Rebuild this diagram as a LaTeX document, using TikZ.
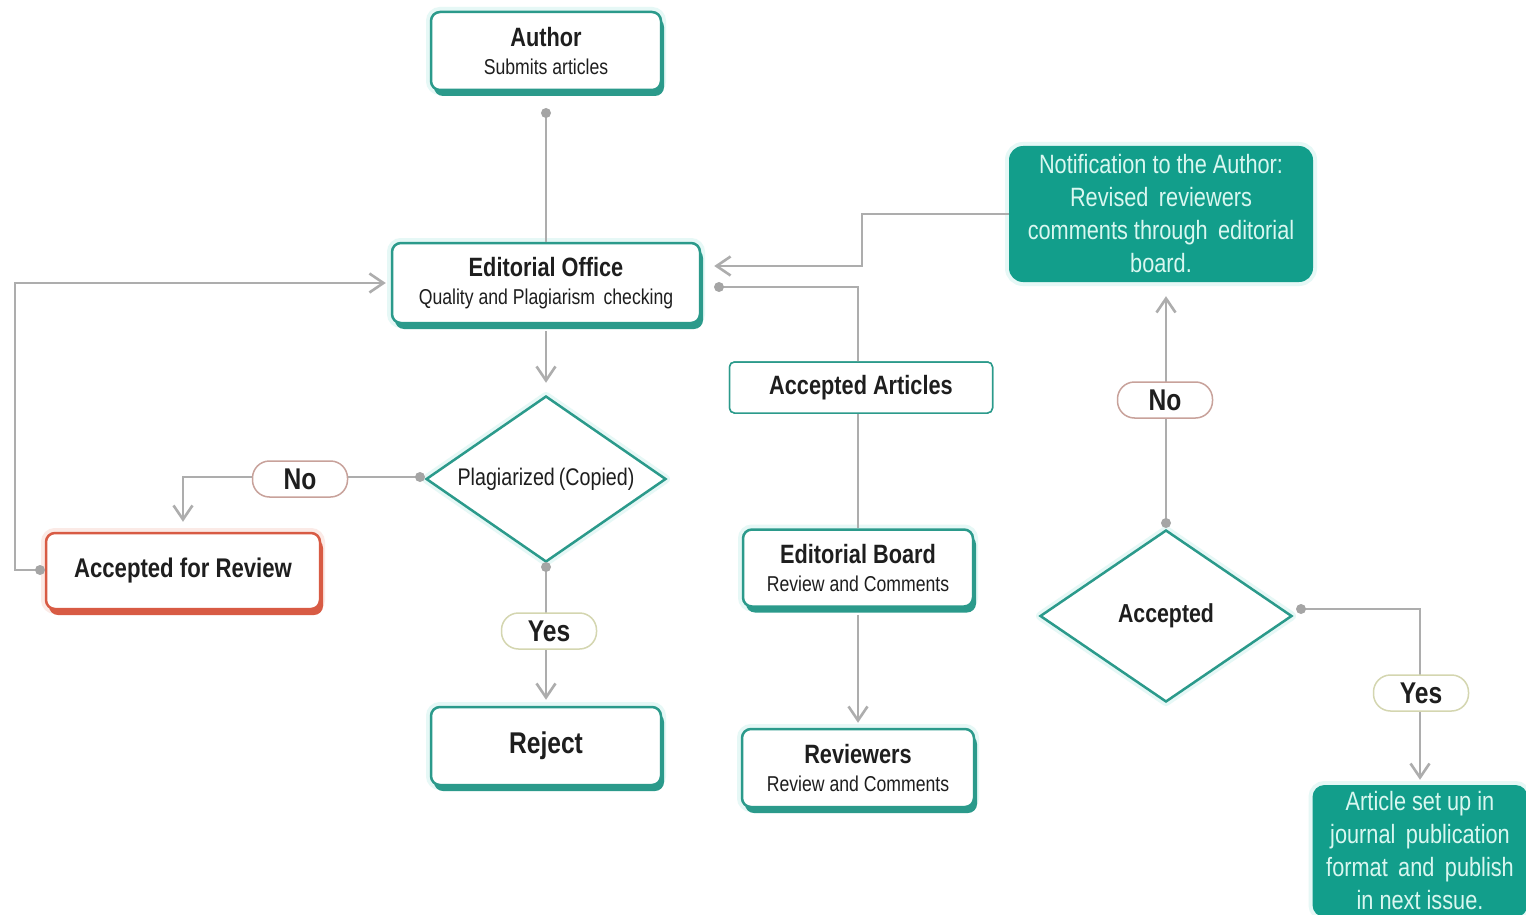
\documentclass[tikz,border=0pt]{standalone}
\usepackage{fontspec}
\setmainfont{Liberation Sans}[FakeStretch=0.82]
\usetikzlibrary{arrows.meta,shapes.geometric,shadows}
\definecolor{tealb}{HTML}{2B9A8B}
\definecolor{tealf}{HTML}{129E8B}
\definecolor{redb}{HTML}{D85B44}
\definecolor{conn}{HTML}{ADADAD}
\definecolor{dotc}{HTML}{A5A5A5}
\definecolor{ntext}{HTML}{D9F7F0}
\definecolor{txt}{HTML}{1E1E1E}
\definecolor{yesb}{HTML}{D4D6B0}
\definecolor{nob}{HTML}{C8A29B}
\definecolor{glowc}{HTML}{E6F8F6}
\definecolor{glowr}{HTML}{FBEAE6}
\newcommand\bigtitle[1]{{\fontsize{26.5}{28}\selectfont\bfseries #1}}
\begin{document}
\begin{tikzpicture}[x=1pt,y=-1pt,
  every node/.style={text=txt},
  box/.style={draw=tealb, line width=2.5pt, rounded corners=9pt, fill=white,
    align=center, inner sep=0pt,
    font=\fontsize{21.5}{28}\selectfont,
    preaction={draw=glowc, line width=10pt},
    drop shadow={shadow xshift=3pt, shadow yshift=-6pt, fill=tealb, opacity=1}},
  redbox/.style={draw=redb, line width=2.5pt, rounded corners=9pt, fill=white,
    align=center, inner sep=0pt,
    preaction={draw=glowr, line width=10pt},
    drop shadow={shadow xshift=3pt, shadow yshift=-6pt, fill=redb, opacity=1}},
  plainbox/.style={draw=tealb, line width=1.5pt, rounded corners=5pt, fill=white,
    align=center, inner sep=0pt, font=\fontsize{26.5}{28}\selectfont\bfseries},
  fillbox/.style={fill=tealf, rounded corners=14pt, align=center, inner sep=0pt,
    text=ntext, font=\fontsize{26.5}{33}\selectfont,
    preaction={draw=glowc, line width=8pt}},
  dia/.style={diamond, draw=tealb, line width=2.5pt, fill=white, inner sep=0pt,
    align=center, preaction={draw=glowc, line width=9pt, line join=round}},
  pill/.style={line width=1.5pt, rounded corners=17pt, fill=white,
    minimum width=95pt, minimum height=36pt, inner sep=0pt,
    font=\fontsize{30}{30}\selectfont\bfseries},
  nopill/.style={pill, draw=nob},
  yespill/.style={pill, draw=yesb},
  ln/.style={draw=conn, line width=1.6pt},
  arr/.style={ln, -{Straight Barb[length=14pt,width=19pt,line width=2.6pt]}},
  dot/.style={fill=dotc}
]
\clip (0,0) rectangle (1526,915);
\fill[white] (0,0) rectangle (1526,915);

% nodes
\node[box, minimum width=230pt, minimum height=78pt] (auth) at (546,51)
  {\bigtitle{Author}\\Submits articles};
\node[box, minimum width=308pt, minimum height=80pt] (eo) at (546,283)
  {\bigtitle{Editorial Office}\\Quality and Plagiarism\, checking};
\node[redbox, minimum width=274pt, minimum height=76pt,
  font=\fontsize{27}{28}\selectfont\bfseries] (afr) at (183,571)
  {Accepted for Review};
\node[box, minimum width=230pt, minimum height=78pt,
  font=\fontsize{30}{30}\selectfont\bfseries] (rej) at (546,746) {Reject};
\node[plainbox, minimum width=263pt, minimum height=51pt] (aa) at (861,387.5)
  {Accepted Articles};
\node[box, minimum width=230pt, minimum height=77pt] (eb) at (858,568)
  {\bigtitle{Editorial Board}\\Review and Comments};
\node[box, minimum width=232pt, minimum height=78pt] (rev) at (858,768)
  {\bigtitle{Reviewers}\\Review and Comments};
\node[fillbox, minimum width=304pt, minimum height=136pt] (notif) at (1161,214)
  {Notification to the Author:\\Revised\, reviewers\\comments through\, editorial\\board.};
\node[fillbox, minimum width=215pt, minimum height=132pt, rounded corners=12pt] (art) at (1420,851)
  {Article set up in\\journal\, publication\\format\, and\, publish\\in next issue.};
\node[dia, aspect=1.45, minimum width=240pt, minimum height=166pt,
  font=\fontsize{24}{26}\selectfont] (plag) at (546,479) {Plagiarized\,(Copied)};
\node[dia, aspect=1.47, minimum width=252pt, minimum height=172pt,
  font=\fontsize{26}{28}\selectfont\bfseries] (acc) at (1166,616) {Accepted};

% connector endpoints (dots)
\coordinate (dA) at (546,113);
\coordinate (dP) at (420,477);
\coordinate (dR) at (40,570);
\coordinate (dPb) at (546,567);
\coordinate (dE) at (719,287);
\coordinate (dAc) at (1166,523);
\coordinate (dAr) at (1301,609);

% connectors
\draw[ln] (dA) -- (auth.south |- eo.north);
\draw[arr, shorten <=7pt, shorten >=12pt] (eo.south) -- (plag.north);
\draw[arr, shorten >=10pt] (dP) -| (afr.north);
\draw[arr, shorten >=5pt] (dR) -- (15,570) |- (eo.west);
\draw[arr, shorten >=6pt] (dPb) -- (rej.north);
\draw[ln] (dE) -| (eb.north);
\draw[arr, shorten <=7pt, shorten >=5pt] (eb.south) -- (rev.north);
\draw[arr, shorten >=14pt] (dAc) -- (dAc |- notif.south);
\draw[arr, shorten >=13pt] (notif.west) -- (862,214) |- ([yshift=17pt]eo.east);
\draw[arr, shorten >=5pt] (dAr) -| (art.north);

% redraw Accepted Articles box over its line
\node[plainbox, minimum width=263pt, minimum height=51pt] at (aa) {Accepted Articles};

% dots
\foreach \d in {dA,dP,dR,dPb,dE,dAc,dAr} \fill[dot] (\d) circle (5pt);

% pills
\node[nopill] (no1) at (300,479) {No};
\node[yespill] (yes1) at (549,631) {Yes};
\node[nopill] (no2) at (1165,400) {No};
\node[yespill] (yes2) at (1421,693) {Yes};
\end{tikzpicture}
\end{document}
